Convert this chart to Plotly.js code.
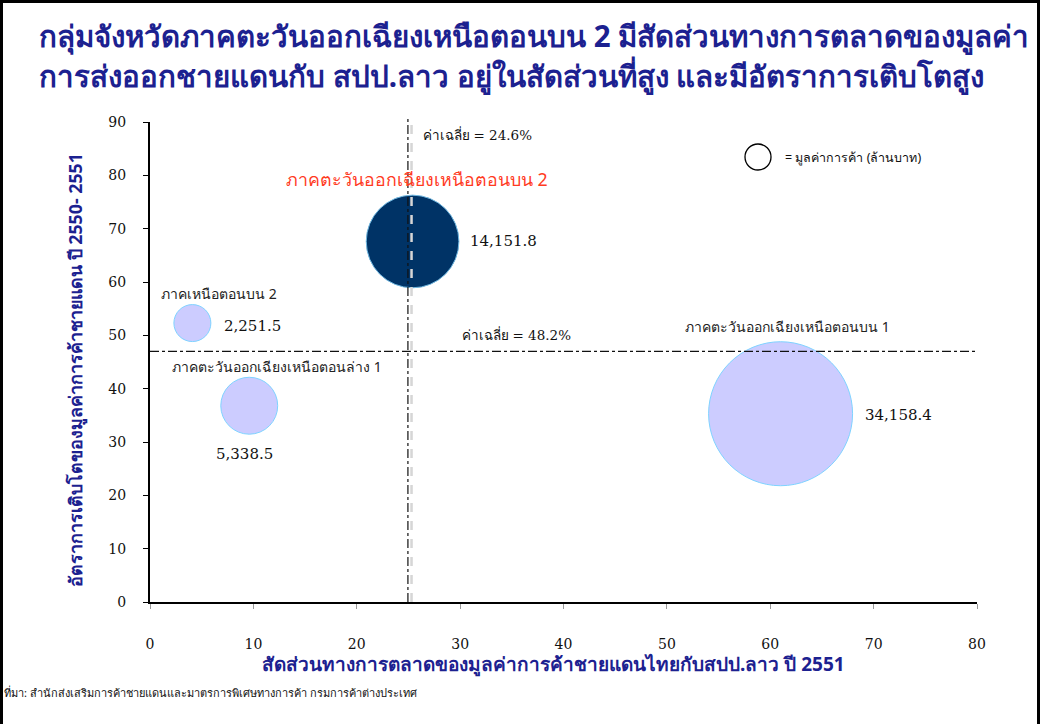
<!DOCTYPE html>
<html>
<head>
<meta charset="utf-8">
<script src="https://cdn.plot.ly/plotly-3.0.1.min.js"></script>
<style>html,body{margin:0;padding:0;background:#fff;}#chart{width:1041px;height:724px;}</style>
</head>
<body>
<div id="chart"></div>
<script>
// ---- data ----
const regions = ['ภาคเหนือตอนบน 2', 'ภาคตะวันออกเฉียงเหนือตอนล่าง 1', 'ภาคตะวันออกเฉียงเหนือตอนบน 2', 'ภาคตะวันออกเฉียงเหนือตอนบน 1'];
const marketShare = [4.1, 9.6, 25.4, 61.0];      // x: สัดส่วนทางการตลาด (%)
const growthRate = [52.3, 36.8, 67.6, 35.3];     // y: อัตราการเติบโต (%)
const tradeValue = [2251.5, 5338.5, 14151.8, 34158.4]; // bubble: มูลค่าการค้า (ล้านบาท)
const avgShareLine = 25.3;   // vertical average line position
const avgGrowthLine = 47.0;  // horizontal average line position
const avgShareValue = '24.6%';
const avgGrowthValue = '48.2%';
const xTicks = [0, 10, 20, 30, 40, 50, 60, 70, 80];
const yTicks = [0, 10, 20, 30, 40, 50, 60, 70, 80, 90];
const titleLines = ['กลุ่มจังหวัดภาคตะวันออกเฉียงเหนือตอนบน 2 มีสัดส่วนทางการตลาดของมูลค่า',
                    'การส่งออกชายแดนกับ สปป.ลาว อยู่ในสัดส่วนที่สูง และมีอัตราการเติบโตสูง'];
const xTitle = 'สัดส่วนทางการตลาดของมูลค่าการค้าชายแดนไทยกับสปป.ลาว ปี 2551';
const yTitle = 'อัตราการเติบโตของมูลค่าการค้าชายแดน ปี 2550- 2551';
const sourceText = 'ที่มา: สำนักส่งเสริมการค้าชายแดนและมาตรการพิเศษทางการค้า กรมการค้าต่างประเทศ';
const legendText = '= มูลค่าการค้า (ล้านบาท)';

// ---- styles ----
const highlightIdx = 2;
const fillColors = regions.map((r, i) => i === highlightIdx ? '#003366' : '#CCCCFF');
const lineColors = regions.map((r, i) => i === highlightIdx ? '#6fb7e0' : '#7fd3ff');
const maxDiameter = 144;
const sizeref = 2 * Math.max(...tradeValue) / (maxDiameter * maxDiameter);
// label offsets in px: [name dx, name dy, value dx, value dy]
const labelOffsets = [
  [27, 30, 60, -3],
  [28, 39, -5, -48],
  [4, 62, 91, 0],
  [7, 87, 118, -1]
];
const navy = '#1c2190';
const thaiFont = 'Noto Sans, Liberation Sans, sans-serif';
const numFont = 'DejaVu Serif, Liberation Serif, serif';

// plot area in px (for converting paper coords)
const L = 150, R = 977, T = 122, B = 602;
const px = x => (x - L) / (R - L);
const py = y => (B - y) / (B - T);

const fmt = v => v.toLocaleString('en-US', {minimumFractionDigits: 1, maximumFractionDigits: 1});

const trace = {
  type: 'scatter', mode: 'markers',
  x: marketShare, y: growthRate,
  text: regions,
  marker: {
    size: tradeValue, sizemode: 'area', sizeref: sizeref,
    color: fillColors, opacity: 1,
    line: {color: lineColors, width: 1}
  },
  hoverinfo: 'text', showlegend: false
};

const annotations = [];
regions.forEach((r, i) => {
  const o = labelOffsets[i];
  annotations.push({
    x: marketShare[i], y: growthRate[i], xref: 'x', yref: 'y',
    text: r, showarrow: false, xshift: o[0], yshift: o[1],
    font: i === highlightIdx ? {family: thaiFont, size: 17.8, color: '#ff3b1f'} : {family: thaiFont, size: 14, color: '#222'}
  });
  annotations.push({
    x: marketShare[i], y: growthRate[i], xref: 'x', yref: 'y',
    text: fmt(tradeValue[i]), showarrow: false, xshift: o[2], yshift: o[3],
    font: {family: numFont, size: 15, color: '#111'}
  });
});
const avgLabel = v => 'ค่าเฉลี่ย <span style="font-family:DejaVu Serif">= ' + v + '</span>';
annotations.push({
  x: avgShareLine, y: 90, xref: 'x', yref: 'y', xanchor: 'left', yanchor: 'middle',
  text: avgLabel(avgShareValue), showarrow: false, xshift: 9, yshift: -13,
  font: {family: thaiFont, size: 13.5, color: '#111'}
});
annotations.push({
  x: 30, y: avgGrowthLine, xref: 'x', yref: 'y', xanchor: 'left', yanchor: 'middle',
  text: avgLabel(avgGrowthValue), showarrow: false, xshift: 0, yshift: 16,
  font: {family: thaiFont, size: 13.5, color: '#111'}
});
// legend key text
annotations.push({
  x: px(783), y: py(157), xref: 'paper', yref: 'paper', xanchor: 'left', yanchor: 'middle',
  text: legendText, showarrow: false,
  font: {family: thaiFont, size: 12.5, color: '#111'}
});
// title
titleLines.forEach((t, i) => {
  annotations.push({
    x: px(37), y: py(i === 0 ? 35 : 75), xref: 'paper', yref: 'paper', xanchor: 'left', yanchor: 'middle',
    text: '<b>' + t + '</b>', showarrow: false,
    font: {family: thaiFont, size: 29.5, color: navy}
  });
});
// axis titles
annotations.push({
  x: px(553), y: py(664), xref: 'paper', yref: 'paper', xanchor: 'center', yanchor: 'middle',
  text: '<b>' + xTitle + '</b>', showarrow: false,
  font: {family: thaiFont, size: 19, color: navy}
});
annotations.push({
  x: px(75), y: py(370), xref: 'paper', yref: 'paper', xanchor: 'center', yanchor: 'middle',
  text: '<b>' + yTitle + '</b>', showarrow: false, textangle: -90,
  font: {family: thaiFont, size: 17.8, color: navy}
});
// source
annotations.push({
  x: px(2), y: py(692), xref: 'paper', yref: 'paper', xanchor: 'left', yanchor: 'middle',
  text: sourceText, showarrow: false,
  font: {family: thaiFont, size: 11, color: '#111'}
});

const shapes = [
  // vertical average line (light shadow + dashdot)
  {type: 'line', xref: 'x', yref: 'paper', x0: avgShareLine, x1: avgShareLine, y0: 0, y1: 1.01,
   line: {color: '#d6d6d6', width: 2.5, dash: 'dash'}, layer: 'above'},
  {type: 'line', xref: 'x', yref: 'paper', x0: avgShareLine - 0.35, x1: avgShareLine - 0.35, y0: 0, y1: 1.01,
   line: {color: '#111', width: 1.2, dash: 'dashdot'}, layer: 'above'},
  // horizontal average line
  {type: 'line', xref: 'paper', yref: 'y', x0: 0, x1: 1, y0: avgGrowthLine, y1: avgGrowthLine,
   line: {color: '#111', width: 1.2, dash: 'dashdot'}, layer: 'above'},
  // legend circle
  {type: 'circle', xref: 'paper', yref: 'paper', xsizemode: 'pixel', ysizemode: 'pixel',
   xanchor: px(758), yanchor: py(157), x0: -13, x1: 13, y0: -13, y1: 13,
   line: {color: '#000', width: 1.3}, fillcolor: 'rgba(0,0,0,0)'},
  // outer frame
  {type: 'rect', xref: 'paper', yref: 'paper', xsizemode: 'pixel', ysizemode: 'pixel',
   xanchor: 0, yanchor: 0, x0: -148.5, x1: 1041 - 150 - 2.5, y0: -140, y1: 724 - 122 - 1.5,
   line: {color: '#000', width: 3}, fillcolor: 'rgba(0,0,0,0)'}
];

const layout = {
  width: 1041, height: 724,
  paper_bgcolor: '#fff', plot_bgcolor: '#fff',
  margin: {l: L, r: 1041 - R, t: T, b: 724 - B},
  xaxis: {
    range: [0, 80], tickvals: xTicks, ticktext: xTicks.map(String),
    showgrid: false, zeroline: false,
    showline: true, linecolor: '#000', linewidth: 1.5,
    ticks: 'outside', ticklen: 5, tickcolor: '#999', tickwidth: 1,
    ticklabelstandoff: 24,
    tickfont: {family: numFont, size: 14, color: '#111'},
    fixedrange: true
  },
  yaxis: {
    range: [0, 90], tickvals: yTicks, ticktext: yTicks.map(String),
    showgrid: false, zeroline: false,
    showline: true, linecolor: '#000', linewidth: 2,
    ticks: 'outside', ticklen: 5, tickcolor: '#000', tickwidth: 1,
    ticklabelstandoff: 14,
    tickfont: {family: numFont, size: 14, color: '#111'},
    fixedrange: true
  },
  annotations: annotations,
  shapes: shapes,
  showlegend: false
};

Plotly.newPlot('chart', [trace], layout, {displayModeBar: false, staticPlot: true});
</script>
</body>
</html>
